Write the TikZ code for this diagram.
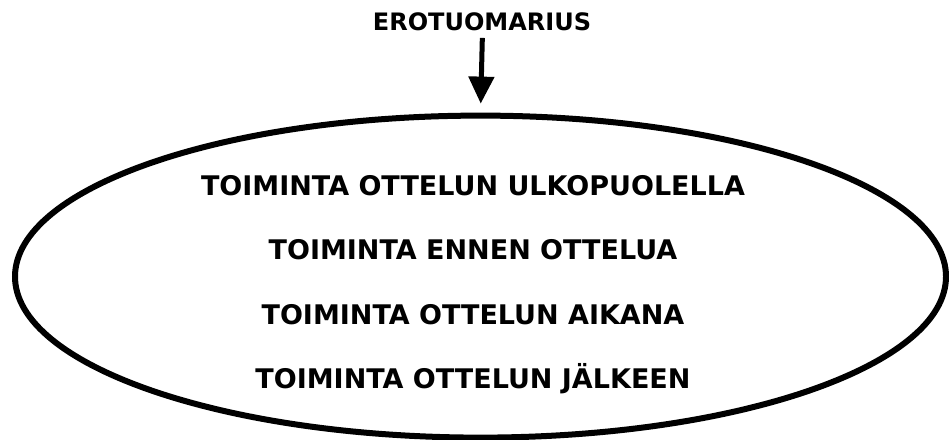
\documentclass[tikz,border=0pt]{standalone}
\usepackage{fontspec}
\setmainfont{DejaVu Sans}
\usetikzlibrary{arrows.meta,positioning,shapes.geometric}

\tikzset{
  head/.style = {font=\fontsize{24}{28}\selectfont\bfseries, inner sep=0pt, text height=17.5pt, text depth=0pt},
  task/.style = {font=\fontsize{27}{32}\selectfont\bfseries, inner sep=0pt, text height=19.7pt, text depth=0pt},
  oval/.style = {ellipse, draw, line width=6pt, inner sep=0pt, minimum width=931pt, minimum height=322pt}
}

\begin{document}
\begin{tikzpicture}[x=1pt, y=-1pt]

\useasboundingbox (0,0) rectangle (949,439);

\node[oval] (oval) at (480.5,276.6) {};
\node[head] (referee) at (482,22) {EROTUOMARIUS};

\node[task] (outside) at (473,186) {TOIMINTA OTTELUN ULKOPUOLELLA};
\node[task, below=44pt of outside] (before) {TOIMINTA ENNEN OTTELUA};
\node[task, below=44pt of before] (during) {TOIMINTA OTTELUN AIKANA};
\node[task, below=44pt of during] (after) {TOIMINTA OTTELUN JÄLKEEN};

\draw[line width=5pt, -{Triangle[length=27pt, width=25pt]}, shorten <=7pt, shorten >=9pt] ([xshift=0.5pt]referee.south) -- (oval.north);

\end{tikzpicture}
\end{document}
